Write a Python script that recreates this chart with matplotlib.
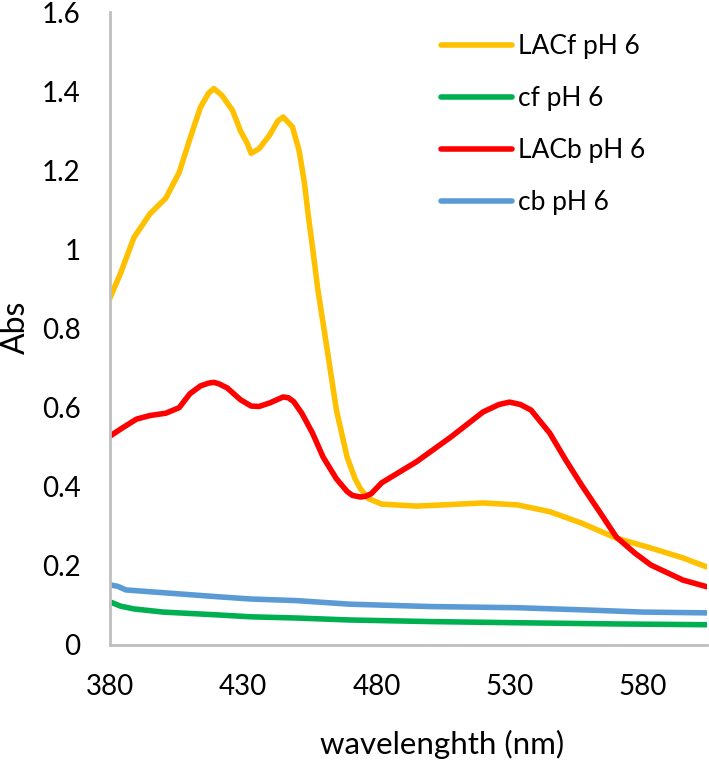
import matplotlib

matplotlib.use("Agg")
import matplotlib.pyplot as plt

plt.rcParams["font.family"] = ["Lato", "DejaVu Sans"]

# LACf pH 6 (yellow)
lacf_x = [380, 384, 389, 395, 401, 406, 411, 414, 417, 419, 422, 426, 429, 431.5, 433, 436,
          440, 443, 445, 448.5, 451, 453, 454.5, 456, 458, 461, 465, 469, 472, 474, 477, 482,
          495, 508, 520, 533, 545, 557, 570, 583, 595, 604]
lacf_y = [0.877, 0.94, 1.03, 1.09, 1.13, 1.195, 1.30, 1.36, 1.395, 1.407, 1.39, 1.352, 1.30,
          1.269, 1.243, 1.255, 1.29, 1.325, 1.335, 1.31, 1.25, 1.168, 1.083, 1.007, 0.90,
          0.77, 0.594, 0.475, 0.42, 0.395, 0.37, 0.356, 0.351, 0.355, 0.359, 0.354, 0.337,
          0.308, 0.27, 0.245, 0.22, 0.197]

# cf pH 6 (green)
cf_x = [380, 384, 389, 400, 420, 433, 450, 470, 500, 533, 570, 604]
cf_y = [0.109, 0.098, 0.091, 0.083, 0.076, 0.071, 0.068, 0.063, 0.059, 0.056, 0.053, 0.051]

# LACb pH 6 (red)
lacb_x = [380, 385, 390, 395, 401, 406, 410, 414, 417, 419, 421, 424, 429, 433, 436, 440,
          445, 447, 449, 452, 456, 460, 465, 469, 471, 474, 476, 478, 482, 495, 508, 520,
          526, 530, 534, 538, 545, 551, 557, 564, 570, 577, 583, 595, 604]
lacb_y = [0.528, 0.55, 0.571, 0.58, 0.586, 0.6, 0.635, 0.655, 0.662, 0.664, 0.66, 0.65,
          0.62, 0.604, 0.603, 0.612, 0.627, 0.625, 0.615, 0.586, 0.536, 0.475, 0.42, 0.388,
          0.378, 0.374, 0.376, 0.382, 0.41, 0.463, 0.526, 0.589, 0.608, 0.614, 0.608, 0.594,
          0.536, 0.468, 0.404, 0.334, 0.273, 0.232, 0.202, 0.164, 0.147]

# cb pH 6 (blue)
cb_x = [380, 383, 386, 400, 420, 433, 450, 470, 500, 533, 560, 580, 604]
cb_y = [0.152, 0.148, 0.139, 0.132, 0.122, 0.116, 0.112, 0.103, 0.097, 0.094, 0.088, 0.083, 0.081]

x_ticks = [380, 430, 480, 530, 580]
y_ticks = [0, 0.2, 0.4, 0.6, 0.8, 1.0, 1.2, 1.4, 1.6]
y_tick_labels = ["0", "0.2", "0.4", "0.6", "0.8", "1", "1.2", "1.4", "1.6"]

fig = plt.figure(figsize=(7.09, 7.65), dpi=100)
ax = fig.add_axes([0.155, 0.157, 0.842, 0.827])

lw = 4.0
for xs, ys, color, label in [
    (lacf_x, lacf_y, "#FFC000", "LACf pH 6"),
    (cf_x, cf_y, "#00B050", "cf pH 6"),
    (lacb_x, lacb_y, "#FF0000", "LACb pH 6"),
    (cb_x, cb_y, "#5B9BD5", "cb pH 6"),
]:
    ax.plot(xs, ys, color=color, lw=lw, label=label,
            solid_capstyle="round", solid_joinstyle="round")

ax.set_xlim(380, 604)
ax.set_ylim(0, 1.6)
ax.set_xticks(x_ticks)
ax.set_yticks(y_ticks)
ax.set_yticklabels(y_tick_labels)
ax.tick_params(axis="both", length=0, labelsize=20)
ax.tick_params(axis="y", pad=21)
ax.tick_params(axis="x", pad=21)

for side in ("top", "right"):
    ax.spines[side].set_visible(False)
for side in ("left", "bottom"):
    ax.spines[side].set_color("#BFBFBF")
    ax.spines[side].set_linewidth(2)

ax.set_xlabel("wavelenghth (nm)", fontsize=22.5)
ax.xaxis.set_label_coords((442 - 110) / 597, -(745 - 645) / 633, transform=ax.transAxes)
ax.xaxis.label.set_va("center")
fig.text(16 / 709, 1 - 327 / 765, "Abs", fontsize=23, rotation=90, ha="center", va="center")

fig.legend(loc="upper left", bbox_to_anchor=(441 / 709, 1 - 34 / 765), frameon=False,
           fontsize=19, handlelength=2.7, handletextpad=0.2, labelspacing=1.02,
           borderaxespad=0, borderpad=0)

fig.savefig("out.png", dpi=100)
